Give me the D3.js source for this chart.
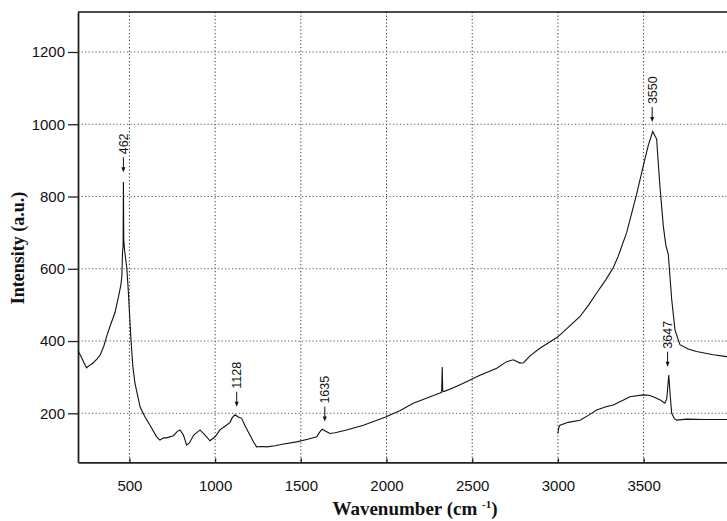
<!DOCTYPE html>
<html>
<head>
<meta charset="utf-8">
<script src="https://cdn.jsdelivr.net/npm/d3@7"></script>
<style>
  body { margin: 0; background: #fff; }
  svg { display: block; }
</style>
</head>
<body>
<script>
// spectrum: [wavenumber, intensity]
const upperCurve = [
  [200, 372], [215, 360], [235, 340], [250, 326], [265, 332], [285, 338], [310, 350],
  [330, 362], [350, 385], [367, 413], [390, 445], [416, 479], [435, 520], [450, 555],
  [456, 580], [460, 650], [463, 660], [465, 840], [467, 680], [472, 650], [485, 600],
  [493, 543], [509, 404], [520, 330], [532, 284], [562, 218], [591, 190], [620, 167],
  [659, 135], [678, 126], [700, 132], [717, 132], [756, 138], [780, 150], [795, 154],
  [815, 140], [834, 112], [850, 118], [875, 140], [912, 154], [940, 140], [970, 124],
  [1000, 135], [1028, 154], [1060, 165], [1087, 175], [1100, 188], [1116, 196],
  [1135, 190], [1155, 186], [1175, 165], [1203, 140], [1225, 120], [1242, 107],
  [1270, 108], [1300, 107], [1350, 110], [1400, 115], [1476, 121], [1540, 128],
  [1593, 135], [1610, 148], [1625, 156], [1640, 152], [1670, 144], [1700, 146],
  [1767, 154], [1865, 167], [1995, 190], [2080, 208], [2156, 228], [2240, 243],
  [2312, 256], [2322, 258], [2325, 328], [2328, 262], [2335, 260], [2400, 273],
  [2448, 283], [2545, 305], [2643, 325], [2701, 343], [2740, 348], [2779, 339],
  [2800, 340], [2837, 359], [2895, 380], [2998, 411], [3060, 438], [3129, 468],
  [3180, 500], [3226, 533], [3280, 570], [3323, 603], [3352, 635], [3401, 700],
  [3459, 806], [3498, 885], [3527, 941], [3553, 980], [3576, 959], [3595, 830],
  [3615, 718], [3630, 665], [3644, 640], [3664, 515], [3683, 431], [3712, 390],
  [3760, 378], [3809, 371], [3906, 362], [3984, 357], [4000, 356]
];

const lowerCurve = [
  [3000, 144], [3005, 160], [3012, 167], [3060, 175], [3129, 181], [3180, 195],
  [3226, 209], [3280, 218], [3323, 223], [3380, 236], [3420, 246], [3498, 251],
  [3530, 250], [3556, 246], [3600, 236], [3624, 228], [3635, 240], [3647, 306],
  [3655, 250], [3664, 200], [3680, 185], [3693, 181], [3751, 184], [3850, 183],
  [3984, 183], [4000, 183]
];

// peak labels: text, wavenumber, intensity at arrow tip
const peakLabels = ["462", "1128", "1635", "3550", "3647"];
const peakX = [465, 1126, 1640, 3550, 3640];
const peakTip = [867, 218, 177, 1006, 329];

const xTicks = [500, 1000, 1500, 2000, 2500, 3000, 3500];
const yTicks = [200, 400, 600, 800, 1000, 1200];

const w = 727, h = 521;
const padLeft = 78, padRight = 729.3, padTop = 12, padBottom = 462.3;

const svg = d3.select("body").append("svg")
  .attr("width", w)
  .attr("height", h);

const x = d3.scaleLinear().domain([200, 4000]).range([padLeft, padRight]);
const y = d3.scaleLinear().domain([64.4, 1310.7]).range([padBottom, padTop]);

// dotted grid
svg.append("g").selectAll("line")
  .data(xTicks)
  .join("line")
  .attr("x1", d => x(d)).attr("x2", d => x(d))
  .attr("y1", padTop).attr("y2", padBottom)
  .attr("stroke", "#333")
  .attr("stroke-width", 1)
  .attr("stroke-dasharray", "1.2,2.3");

svg.append("g").selectAll("line")
  .data(yTicks)
  .join("line")
  .attr("x1", padLeft).attr("x2", w)
  .attr("y1", d => y(d)).attr("y2", d => y(d))
  .attr("stroke", "#555")
  .attr("stroke-width", 1)
  .attr("stroke-dasharray", "1.2,2.3");

// axes
const xAxis = d3.axisBottom(x).tickValues(xTicks).tickFormat(d3.format("d"))
  .tickSizeInner(-4).tickSizeOuter(0).tickPadding(18);
const yAxis = d3.axisLeft(y).tickValues(yTicks).tickFormat(d3.format("d"))
  .tickSizeInner(10).tickSizeOuter(0).tickPadding(3);

const gx = svg.append("g")
  .attr("transform", "translate(0," + padBottom + ")")
  .call(xAxis);
const gy = svg.append("g")
  .attr("transform", "translate(" + padLeft + ",0)")
  .call(yAxis);

[gx, gy].forEach(g => {
  g.select(".domain").attr("stroke", "#222").attr("stroke-width", 1.8);
  g.selectAll(".tick line").attr("stroke", "#222").attr("stroke-width", 1.3);
  g.selectAll(".tick text")
    .attr("fill", "#111")
    .style("font-family", "'Liberation Sans', Arial, sans-serif")
    .style("font-size", "15px");
});

// top frame line
svg.append("line")
  .attr("x1", padLeft).attr("x2", w)
  .attr("y1", padTop).attr("y2", padTop)
  .attr("stroke", "#111")
  .attr("stroke-width", 1.6);

// spectra
const line = d3.line().x(d => x(d[0])).y(d => y(d[1]));

svg.append("path")
  .datum(upperCurve)
  .attr("d", line)
  .attr("fill", "none")
  .attr("stroke", "#111")
  .attr("stroke-width", 1.1);

svg.append("path")
  .datum(lowerCurve)
  .attr("d", line)
  .attr("fill", "none")
  .attr("stroke", "#111")
  .attr("stroke-width", 1.1);

// peak annotations
const ann = svg.append("g").selectAll("g")
  .data(peakLabels)
  .join("g")
  .attr("transform", (d, i) => "translate(" + x(peakX[i]) + "," + y(peakTip[i]) + ")");

ann.append("line")
  .attr("x1", 0).attr("x2", 0)
  .attr("y1", -15).attr("y2", -3)
  .attr("stroke", "#111")
  .attr("stroke-width", 1);

ann.append("path")
  .attr("d", "M-2,-5 L2,-5 L0,0 Z")
  .attr("fill", "#111");

ann.append("text")
  .text(d => d)
  .attr("transform", "translate(4.5,-18) rotate(-90)")
  .attr("fill", "#111")
  .style("font-family", "'Liberation Sans', Arial, sans-serif")
  .style("font-size", "12.5px");

// axis titles
svg.append("text")
  .text("Intensity (a.u.)")
  .attr("transform", "translate(24,248) rotate(-90)")
  .attr("text-anchor", "middle")
  .attr("fill", "#111")
  .style("font-family", "'Liberation Serif', 'Times New Roman', serif")
  .style("font-weight", "bold")
  .style("font-size", "18px");

const xt = svg.append("text")
  .attr("x", 415)
  .attr("y", 515)
  .attr("text-anchor", "middle")
  .attr("fill", "#111")
  .style("font-family", "'Liberation Serif', 'Times New Roman', serif")
  .style("font-weight", "bold")
  .style("font-size", "19px");
xt.append("tspan").text("Wavenumber (cm ");
xt.append("tspan").text("-1").attr("dy", -7).style("font-size", "11px");
xt.append("tspan").text(")").attr("dy", 7);
</script>
</body>
</html>
